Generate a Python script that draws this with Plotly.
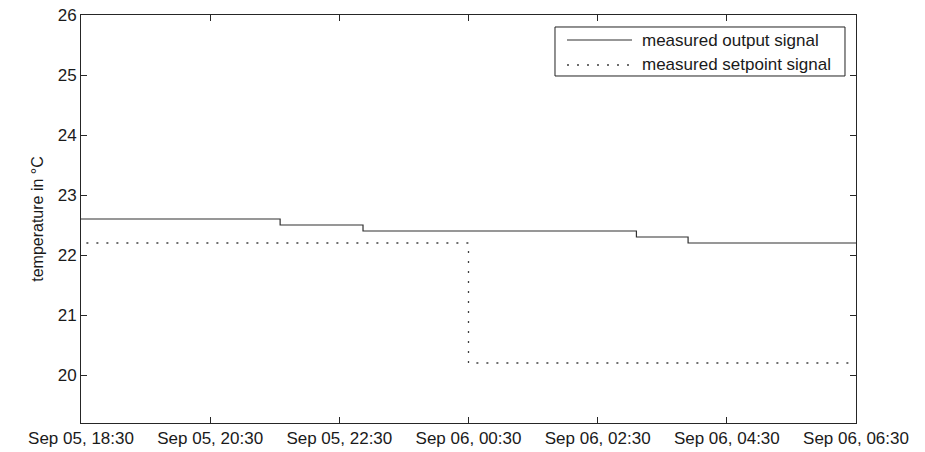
import plotly.graph_objects as go

# Data
output_times = ["2013-09-05 18:30", "2013-09-05 21:35", "2013-09-05 22:52",
                "2013-09-06 03:06", "2013-09-06 03:54", "2013-09-06 06:30"]
output_vals = [22.6, 22.5, 22.4, 22.3, 22.2, 22.2]

setpoint_times = ["2013-09-05 18:35", "2013-09-06 00:30", "2013-09-06 06:30"]
setpoint_vals = [22.2, 20.2, 20.2]

series_names = ["measured output signal", "measured setpoint signal"]

x_range = ["2013-09-05 18:30", "2013-09-06 06:30"]
y_range = [19.2, 26]
y_ticks = [20, 21, 22, 23, 24, 25, 26]

FONT = "Liberation Sans, Arial, sans-serif"
AX = "#262626"
LINE_STYLES = [dict(color="#303030", width=1.2),
               dict(color="#404040", width=1.3, dash="2px,8px")]

fig = go.Figure()
fig.add_trace(go.Scatter(
    x=output_times, y=output_vals, mode="lines", line_shape="hv",
    name=series_names[0], line=LINE_STYLES[0], showlegend=False))
fig.add_trace(go.Scatter(
    x=setpoint_times, y=setpoint_vals, mode="lines", line_shape="hv",
    name=series_names[1], line=LINE_STYLES[1], showlegend=False))

# MATLAB-style legend box (drawn in paper coordinates)
fig.add_shape(type="rect", xref="paper", yref="paper",
              x0=0.6116, x1=0.9858, y0=0.8505, y1=0.9706,
              line=dict(color="#222", width=1), fillcolor="white", layer="above")
for i, (name, ystar) in enumerate(zip(series_names, [0.9387, 0.8775])):
    fig.add_shape(type="line", xref="paper", yref="paper",
                  x0=0.6271, x1=0.7110, y0=ystar, y1=ystar,
                  line=LINE_STYLES[i], layer="above")
    fig.add_annotation(x=0.7213, y=ystar, xref="paper", yref="paper",
                       text=name, showarrow=False, xanchor="left", yanchor="middle",
                       font=dict(size=17, family=FONT, color="#1a1a1a"))

fig.update_layout(
    width=925, height=452,
    margin=dict(l=81, r=69, t=15, b=29),
    paper_bgcolor="white", plot_bgcolor="white",
    font=dict(family=FONT, size=17, color="#1a1a1a"),
    showlegend=False,
    xaxis=dict(range=x_range, type="date", tick0="2013-09-05 18:30",
               dtick=7200000, tickformat="%b %d, %H:%M", automargin=False,
               showgrid=False, zeroline=False, showline=True, mirror="ticks",
               linecolor=AX, linewidth=1, ticks="inside", ticklen=6,
               tickcolor=AX, tickfont=dict(size=17)),
    yaxis=dict(range=y_range, tickvals=y_ticks, automargin=False,
               showgrid=False, zeroline=False, showline=True, mirror="ticks",
               linecolor=AX, linewidth=1, ticks="inside", ticklen=6,
               tickcolor=AX, tickfont=dict(size=17),
               title=dict(text="temperature in °C", font=dict(size=16), standoff=10)),
)

fig.write_html("out.html")
